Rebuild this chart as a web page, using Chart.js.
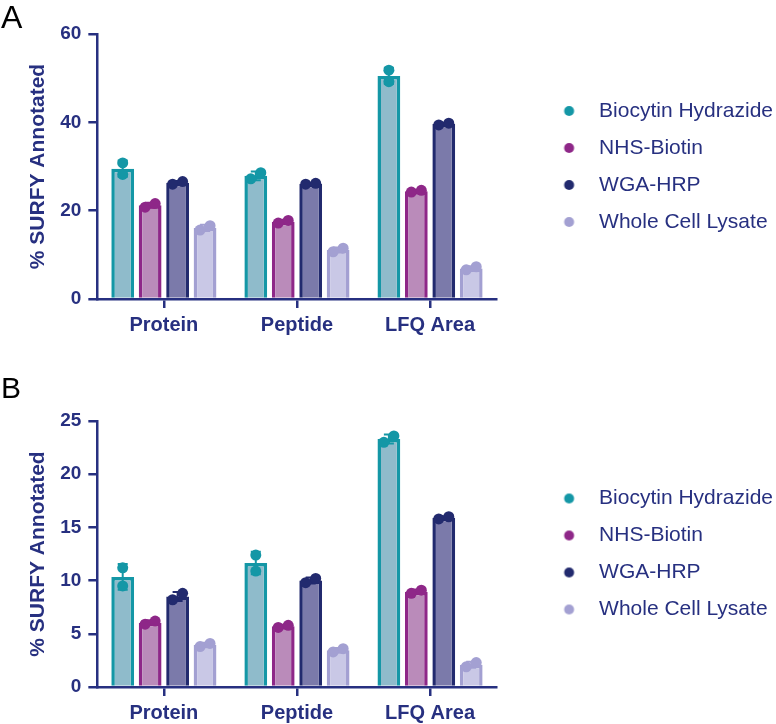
<!DOCTYPE html>
<html>
<head>
<meta charset="utf-8">
<script src="https://cdn.jsdelivr.net/npm/chart.js@4.4.1/dist/chart.umd.min.js"></script>
<style>
  body { margin: 0; background: #fff; width: 776px; height: 724px; position: relative; overflow: hidden; font-family: "Liberation Sans", Arial, sans-serif; }
  .panel { position: absolute; left: 0; width: 776px; height: 362px; }
  .letter { position: absolute; left: 1px; color: #000; line-height: 1; }
</style>
</head>
<body>
<div class="panel" style="top:0"><canvas id="chartA" width="776" height="362"></canvas></div>
<div class="panel" style="top:362px"><canvas id="chartB" width="776" height="362"></canvas></div>
<div class="letter" style="top:1px;font-size:32px">A</div>
<div class="letter" style="top:373px;font-size:30px">B</div>
<script>
const categories = ['Protein', 'Peptide', 'LFQ Area'];
const seriesNames = ['Biocytin Hydrazide', 'NHS-Biotin', 'WGA-HRP', 'Whole Cell Lysate'];

// panel A - bar heights (means)
const biocytinA = [29.5, 27.9, 50.5];
const nhsA = [21.2, 17.5, 24.4];
const wgaA = [26.3, 26.1, 39.6];
const wclA = [16.1, 11.1, 6.9];
// panel A - replicates
const biocytinRepsA = [[30.8, 28.2], [27.2, 28.6], [51.8, 49.2]];
const nhsRepsA = [[20.8, 21.6], [17.2, 17.8], [24.2, 24.6]];
const wgaRepsA = [[26.0, 26.6], [26.0, 26.2], [39.4, 39.8]];
const wclRepsA = [[15.6, 16.6], [10.7, 11.5], [6.6, 7.3]];

// panel B - bar heights (means)
const biocytinB = [10.35, 11.65, 23.3];
const nhsB = [6.05, 5.7, 8.95];
const wgaB = [8.5, 10.0, 15.9];
const wclB = [3.95, 3.45, 2.1];
// panel B - replicates
const biocytinRepsB = [[11.2, 9.5], [12.4, 10.9], [23.0, 23.6]];
const nhsRepsB = [[5.9, 6.2], [5.6, 5.8], [8.8, 9.1]];
const wgaRepsB = [[8.2, 8.8], [9.8, 10.2], [15.8, 16.0]];
const wclRepsB = [[3.8, 4.1], [3.3, 3.6], [1.9, 2.3]];

const yTicksA = [0, 60, 20];
const yTicksB = [0, 25, 5];

const navy = '#273080';
const borderColors = ['#1497A6', '#8E2788', '#222A6E', '#A3A0D2'];
const fillColors = ['#8FBBCB', '#BA8BBA', '#7B7AAA', '#C9C8E6'];

Chart.defaults.font.family = '"Liberation Sans", Arial, sans-serif';

function dotImage(color) {
  const c = document.createElement('canvas');
  c.width = 60;
  c.height = 12;
  const g = c.getContext('2d');
  g.fillStyle = color;
  g.beginPath();
  g.arc(48.5, 6, 5, 0, Math.PI * 2);
  g.fill();
  return c;
}

// the right legend is capped at a quarter of the width by default; let it take what it needs
const wideLegend = {
  id: 'wideLegend',
  beforeLayout(chart) {
    const lg = chart.legend;
    if (!lg || lg._wide) return;
    const fit = lg.fit;
    lg.fit = function () {
      fit.call(this);
      if (this.options.display && this.columnSizes) {
        this.width = this.options.labels.padding + this.columnSizes[0].width + 10;
      }
    };
    lg._wide = true;
  }
};

// error bars (mean +/- SD) and replicate dots on top of each bar
const replicatePlugin = {
  id: 'replicates',
  afterDatasetsDraw(chart) {
    const ctx = chart.ctx;
    const yScale = chart.scales.y;
    chart.data.datasets.forEach((ds, i) => {
      const meta = chart.getDatasetMeta(i);
      const color = borderColors[i];
      ds.reps.forEach((pair, j) => {
        const bar = meta.data[j];
        const m = pair.reduce((s, v) => s + v, 0) / pair.length;
        const sd = Math.sqrt(pair.reduce((s, v) => s + (v - m) ** 2, 0) / (pair.length - 1));
        const yTop = yScale.getPixelForValue(ds.data[j] + sd);
        const yBot = yScale.getPixelForValue(ds.data[j] - sd);
        ctx.save();
        ctx.strokeStyle = color;
        ctx.lineWidth = 2;
        ctx.beginPath();
        ctx.moveTo(bar.x, yTop);
        ctx.lineTo(bar.x, yBot);
        ctx.moveTo(bar.x - 5, yTop);
        ctx.lineTo(bar.x + 5, yTop);
        ctx.moveTo(bar.x - 5, yBot);
        ctx.lineTo(bar.x + 5, yBot);
        ctx.stroke();
        const py = pair.map(v => yScale.getPixelForValue(v));
        const apart = Math.abs(py[0] - py[1]) > 9;
        ctx.fillStyle = color;
        py.forEach((p, k) => {
          const dx = apart ? 0 : (k === 0 ? -5 : 5);
          ctx.beginPath();
          ctx.arc(bar.x + dx, p, 5.5, 0, Math.PI * 2);
          ctx.fill();
        });
        ctx.restore();
      });
    });
  }
};

function buildChart(id, values, reps, yTicks, pad) {
  return new Chart(document.getElementById(id), {
    type: 'bar',
    data: {
      labels: categories,
      datasets: seriesNames.map((name, i) => ({
        label: name,
        data: values[i],
        reps: reps[i],
        backgroundColor: fillColors[i],
        borderColor: borderColors[i],
        borderWidth: 3.5,
        pointStyle: dotImage(borderColors[i]),
        categoryPercentage: 0.825,
        barPercentage: 0.83
      }))
    },
    options: {
      responsive: false,
      animation: false,
      layout: { padding: pad },
      plugins: {
        legend: {
          position: 'right',
          fullSize: false,
          labels: {
            usePointStyle: true,
            pointStyleWidth: 76,
            boxHeight: 12,
            padding: 16,
            color: navy,
            font: { size: 21 }
          }
        },
        tooltip: { enabled: false }
      },
      scales: {
        x: {
          grid: { offset: false, drawOnChartArea: false, color: navy, lineWidth: 2.5, tickLength: 9 },
          border: { color: navy, width: 2.5 },
          ticks: { color: navy, font: { size: 20, weight: 'bold' }, padding: 5 }
        },
        y: {
          min: yTicks[0],
          max: yTicks[1],
          ticks: { stepSize: yTicks[2], color: navy, font: { size: 19, weight: 'bold' }, padding: 7 },
          grid: { drawOnChartArea: false, color: navy, lineWidth: 2.5, tickLength: 9 },
          border: { color: navy, width: 2.5 },
          title: {
            display: true,
            text: '% SURFY Annotated',
            color: navy,
            font: { size: 21, weight: 'bold' },
            padding: { top: 0, bottom: 2.5 }
          }
        }
      }
    },
    plugins: [wideLegend, replicatePlugin]
  });
}

buildChart('chartA', [biocytinA, nhsA, wgaA, wclA], [biocytinRepsA, nhsRepsA, wgaRepsA, wclRepsA],
  yTicksA, { left: 25.5, top: 34, right: -7, bottom: 20 });
buildChart('chartB', [biocytinB, nhsB, wgaB, wclB], [biocytinRepsB, nhsRepsB, wgaRepsB, wclRepsB],
  yTicksB, { left: 25.5, top: 59, right: -7, bottom: -6 });
</script>
</body>
</html>
